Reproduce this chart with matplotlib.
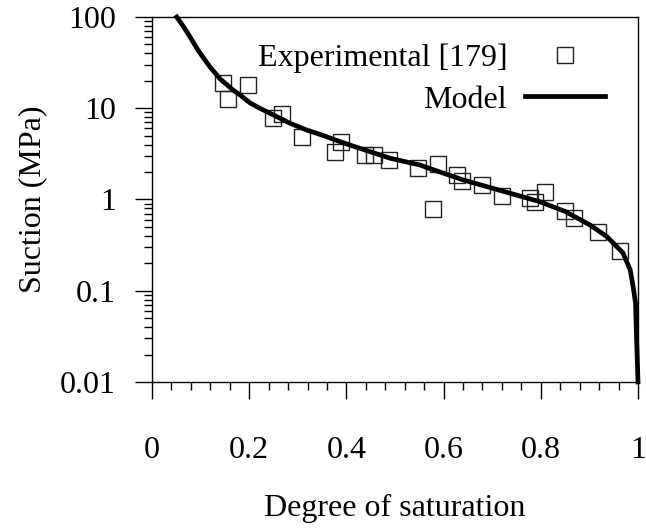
import numpy as np
import matplotlib
matplotlib.use('Agg')
import matplotlib.pyplot as plt
from matplotlib.ticker import MultipleLocator, LogLocator, FuncFormatter, NullFormatter

# Experimental points (degree of saturation, suction in MPa)
exp_sr = [0.147, 0.157, 0.198, 0.248, 0.267, 0.308, 0.377, 0.388, 0.438, 0.457,
          0.488, 0.548, 0.588, 0.578, 0.627, 0.638, 0.678, 0.720, 0.778, 0.788,
          0.809, 0.850, 0.868, 0.918, 0.963]
exp_suction = [18.8, 12.5, 18.0, 7.76, 8.65, 4.88, 3.34, 4.30, 3.07, 3.07,
               2.71, 2.20, 2.43, 0.787, 1.85, 1.60, 1.44, 1.08, 1.03, 0.93,
               1.21, 0.75, 0.62, 0.44, 0.27]

# Model curve
model_sr = [0.051, 0.065, 0.078, 0.095, 0.119, 0.140, 0.167, 0.181, 0.202, 0.222,
            0.250, 0.284, 0.318, 0.353, 0.387, 0.421, 0.455, 0.490, 0.551, 0.572,
            0.640, 0.737, 0.798, 0.850, 0.901, 0.936, 0.969, 0.984, 0.990, 0.995,
            0.997, 0.999, 1.0]
model_suction = [100, 78, 60.8, 43, 28.5, 21, 15.8, 14.0, 11.4, 9.98,
                 8.43, 6.84, 5.78, 5.01, 4.30, 3.73, 3.26, 2.83, 2.39, 2.18,
                 1.64, 1.17, 0.946, 0.74, 0.526, 0.392, 0.26, 0.169, 0.111, 0.073,
                 0.031, 0.015, 0.01]

plt.rcParams['font.family'] = ['Liberation Serif', 'DejaVu Serif']
fs = 23

fig = plt.figure(figsize=(6.46, 5.29), dpi=100)
ax = fig.add_axes([0.2353, 0.2779, 0.7523, 0.69])

ax.plot(exp_sr, exp_suction, 's', ms=11, mfc='none', mec='#222222', mew=1.0,
        label='Experimental [179]', clip_on=False)
ax.plot(model_sr, model_suction, '-', color='black', lw=3.4, label='Model',
        clip_on=False, solid_joinstyle='round')

ax.set_yscale('log')
ax.set_xlim(0, 1)
ax.set_ylim(0.01, 100)

ax.xaxis.set_major_locator(MultipleLocator(0.2))
ax.xaxis.set_minor_locator(MultipleLocator(0.04))
ax.yaxis.set_major_locator(LogLocator(base=10, numticks=10))
ax.yaxis.set_minor_locator(LogLocator(base=10, subs=np.arange(2, 10), numticks=10))
ax.yaxis.set_minor_formatter(NullFormatter())
ax.xaxis.set_major_formatter(FuncFormatter(lambda v, p: '%g' % round(v, 2)))
ax.yaxis.set_major_formatter(FuncFormatter(lambda v, p: '%g' % v))

ax.tick_params(which='both', direction='out', top=False, right=False, width=1.0,
               labelsize=fs)
ax.tick_params(which='major', length=12)
ax.tick_params(which='minor', length=6)
ax.tick_params(axis='x', which='major', pad=27)
ax.tick_params(axis='y', which='major', pad=14)
for s in ax.spines.values():
    s.set_linewidth(1.0)

ax.set_xlabel('Degree of saturation', fontsize=fs)
ax.set_ylabel('Suction (MPa)', fontsize=fs)
ax.xaxis.set_label_coords(0.5, -0.307)
ax.yaxis.set_label_coords(-0.216, 0.5)

ax.legend(loc='upper right', bbox_to_anchor=(0.932, 0.926), markerfirst=False,
          frameon=False, fontsize=fs, handlelength=2.5, handletextpad=0.56,
          labelspacing=0.37, borderpad=0, borderaxespad=0)

fig.savefig('out.png', dpi=100)
